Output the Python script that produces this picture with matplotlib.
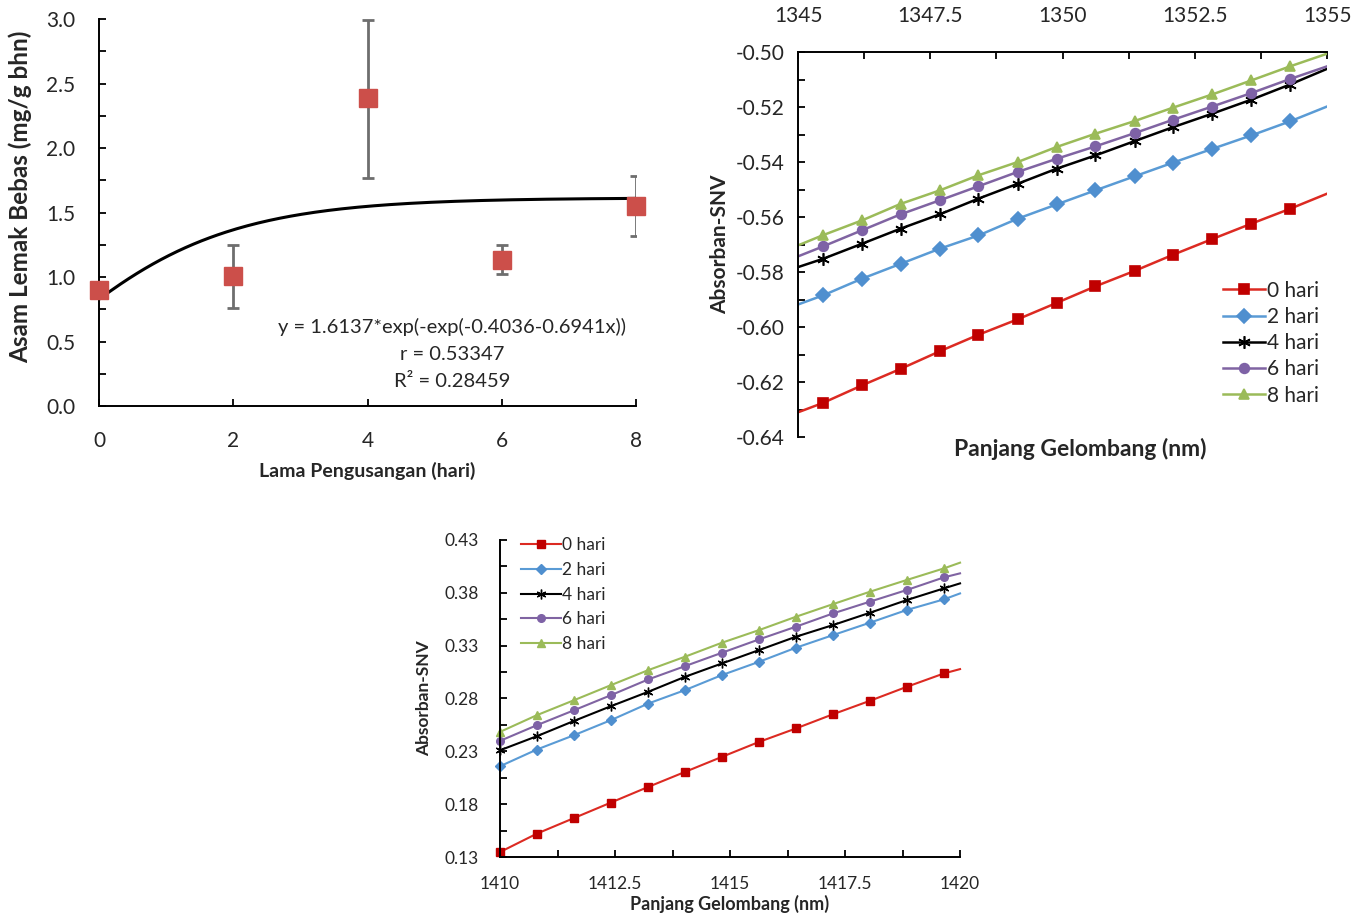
import numpy as np
import matplotlib
matplotlib.use("Agg")
import matplotlib.pyplot as plt
from matplotlib.ticker import MultipleLocator, FixedLocator, FormatStrFormatter, FuncFormatter

plt.rcParams['font.family'] = ['Lato', 'DejaVu Sans']
plt.rcParams['axes.unicode_minus'] = False

# ---- panel A: asam lemak bebas vs lama pengusangan ----
days = [0, 2, 4, 6, 8]
ffa_mean = [0.90, 1.01, 2.39, 1.13, 1.55]
ffa_low = [0.88, 0.76, 1.77, 1.02, 1.32]
ffa_high = [0.92, 1.25, 2.99, 1.25, 1.78]
# fitted Gompertz model as printed on the chart
fit_a, fit_b, fit_c = 1.6137, -0.4036, -0.6941
fit_text = ["y = 1.6137*exp(-exp(-0.4036-0.6941x))", "r = 0.53347", "R² = 0.28459"]

# ---- panel B: spektrum 1345-1355 nm ----
series_labels = ["0 hari", "2 hari", "4 hari", "6 hari", "8 hari"]
wl_b = [1345.00, 1345.47, 1346.21, 1346.94, 1347.68, 1348.41, 1349.15, 1349.89,
        1350.62, 1351.36, 1352.09, 1352.83, 1353.57, 1354.30, 1355.00]
snv_b = [
    [-0.6310, -0.6276, -0.6212, -0.6152, -0.6088, -0.6028, -0.5972, -0.5912,
     -0.5852, -0.5796, -0.5737, -0.5680, -0.5624, -0.5570, -0.5515],
    [-0.5918, -0.5885, -0.5824, -0.5770, -0.5715, -0.5667, -0.5606, -0.5554,
     -0.5503, -0.5452, -0.5402, -0.5352, -0.5303, -0.5252, -0.5198],
    [-0.5782, -0.5752, -0.5697, -0.5642, -0.5590, -0.5533, -0.5479, -0.5424,
     -0.5376, -0.5324, -0.5273, -0.5224, -0.5173, -0.5118, -0.5061],
    [-0.5743, -0.5707, -0.5648, -0.5590, -0.5539, -0.5488, -0.5436, -0.5388,
     -0.5343, -0.5295, -0.5246, -0.5198, -0.5149, -0.5098, -0.5052],
    [-0.5703, -0.5666, -0.5612, -0.5552, -0.5503, -0.5448, -0.5400, -0.5345,
     -0.5297, -0.5251, -0.5202, -0.5154, -0.5103, -0.5052, -0.5006],
]

# ---- panel C: spektrum 1410-1420 nm ----
wl_c = [1410.00, 1410.80, 1411.61, 1412.41, 1413.22, 1414.02, 1414.82,
        1415.63, 1416.43, 1417.24, 1418.04, 1418.84, 1419.65, 1420.00]
snv_c = [
    [0.1347, 0.1521, 0.1669, 0.1815, 0.1963, 0.2105, 0.2247,
     0.2389, 0.2516, 0.2651, 0.2778, 0.2910, 0.3037, 0.3078],
    [0.2159, 0.2317, 0.2453, 0.2595, 0.2752, 0.2879, 0.3021,
     0.3147, 0.3280, 0.3400, 0.3517, 0.3637, 0.3738, 0.3794],
    [0.2310, 0.2443, 0.2588, 0.2727, 0.2863, 0.3005, 0.3131,
     0.3258, 0.3384, 0.3495, 0.3611, 0.3731, 0.3842, 0.3889],
    [0.2399, 0.2547, 0.2689, 0.2831, 0.2980, 0.3106, 0.3232,
     0.3359, 0.3479, 0.3605, 0.3716, 0.3826, 0.3946, 0.3984],
    [0.2484, 0.2642, 0.2784, 0.2926, 0.3068, 0.3195, 0.3327,
     0.3447, 0.3573, 0.3693, 0.3810, 0.3921, 0.4031, 0.4085],
]
yticks_c = [0.13, 0.18, 0.23, 0.28, 0.33, 0.38, 0.43]

line_colors = ['#dc2a22', '#5a9bd5', '#000000', '#8064a2', '#9bbb59']
marker_colors = ['#c00000', '#4f8fcf', '#000000', '#7e62a6', '#9bbb59']
markers = ['s', 'D', (6, 2, 0), 'o', '^']
TXT = '#262626'

fig = plt.figure(figsize=(13.67, 9.23), dpi=100)


def style_ticks(ax, size):
    ax.tick_params(which='both', direction='in', length=5, width=1.3,
                   labelsize=size, labelcolor=TXT)
    for s in ax.spines.values():
        s.set_linewidth(1.4)


# Panel A
ax1 = fig.add_axes([0.0724, 0.5601, 0.3929, 0.4193])
yerr = [np.array(ffa_mean) - np.array(ffa_low), np.array(ffa_high) - np.array(ffa_mean)]
ax1.errorbar(days, ffa_mean, yerr=yerr, fmt='none', ecolor='#6e6e6e',
             elinewidth=2, capsize=4, capthick=2, zorder=2)
xf = np.linspace(0, 8, 200)
ax1.plot(xf, fit_a * np.exp(-np.exp(fit_b + fit_c * xf)), color='black', lw=2.2, zorder=3)
ax1.plot(days, ffa_mean, 's', color='#cc4f4a', markersize=13, zorder=4, clip_on=False)
ax1.set_xlim(0, 8)
ax1.set_ylim(0, 3.0)
ax1.set_xticks([0, 2, 4, 6, 8])
ax1.yaxis.set_major_locator(MultipleLocator(0.5))
ax1.yaxis.set_minor_locator(MultipleLocator(0.25))
ax1.yaxis.set_major_formatter(FormatStrFormatter('%.1f'))
ax1.spines['top'].set_visible(False)
ax1.spines['right'].set_visible(False)
style_ticks(ax1, 15)
ax1.tick_params(axis='x', pad=18)
ax1.tick_params(axis='y', pad=17)
ax1.set_xlabel("Lama Pengusangan (hari)", fontsize=14, fontweight='bold', color=TXT, labelpad=8)
ax1.set_ylabel("Asam Lemak Bebas (mg/g bhn)", fontsize=17.5, fontweight='bold', color=TXT)
ax1.yaxis.set_label_coords(-0.125, 0.54)
for i, t in enumerate(fit_text):
    ax1.text(5.26, 0.612 - i * 0.212, t, ha='center', va='center', fontsize=14.5, color=TXT)

# Panel B
ax2 = fig.add_axes([0.5838, 0.5265, 0.3870, 0.4171])
for i in range(5):
    ax2.plot(wl_b, snv_b[i], color=line_colors[i], lw=1.8, marker=markers[i],
             markevery=slice(1, -1), markersize=7 if i != 2 else 9,
             markerfacecolor=marker_colors[i], markeredgecolor=marker_colors[i],
             markeredgewidth=1.2, label=series_labels[i])
ax2.set_xlim(1345, 1355)
ax2.set_ylim(-0.64, -0.50)
ax2.xaxis.tick_top()
ax2.xaxis.set_major_locator(MultipleLocator(2.5))
ax2.xaxis.set_minor_locator(MultipleLocator(1.25))
ax2.xaxis.set_major_formatter(FuncFormatter(lambda v, p: '{:g}'.format(v)))
ax2.yaxis.set_major_locator(MultipleLocator(0.02))
ax2.yaxis.set_minor_locator(MultipleLocator(0.01))
ax2.yaxis.set_major_formatter(FormatStrFormatter('%.2f'))
ax2.spines['bottom'].set_visible(False)
ax2.spines['right'].set_visible(False)
style_ticks(ax2, 15)
ax2.tick_params(axis='x', pad=19)
ax2.tick_params(axis='y', pad=10)
ax2.set_ylabel("Absorban-SNV", fontsize=15, fontweight='bold', color=TXT)
ax2.yaxis.set_label_coords(-0.128, 0.5)
fig.text(1080 / 1367, 1 - 449 / 923, "Panjang Gelombang (nm)", ha='center', va='center',
         fontsize=16.5, fontweight='bold', color=TXT)
ax2.legend(loc='lower right', bbox_to_anchor=(1.0, 0.06), frameon=False, fontsize=15,
           handlelength=2.0, handletextpad=0.1, labelspacing=0.3, borderaxespad=0,
           labelcolor=TXT)

# Panel C
ax3 = fig.add_axes([0.3658, 0.0715, 0.3365, 0.3435])
for i in range(5):
    ax3.plot(wl_c, snv_c[i], color=line_colors[i], lw=1.5, marker=markers[i],
             markevery=slice(0, -1), markersize=5.5 if i != 2 else 7,
             markerfacecolor=marker_colors[i], markeredgecolor=marker_colors[i],
             label=series_labels[i], clip_on=False)
ax3.set_xlim(1410, 1420)
ax3.set_ylim(yticks_c[0], yticks_c[-1])
ax3.xaxis.set_major_locator(MultipleLocator(2.5))
ax3.xaxis.set_minor_locator(MultipleLocator(1.25))
ax3.xaxis.set_major_formatter(FuncFormatter(lambda v, p: '{:g}'.format(v)))
ax3.yaxis.set_major_locator(FixedLocator(yticks_c))
ax3.yaxis.set_minor_locator(FixedLocator([v + 0.025 for v in yticks_c[:-1]]))
ax3.yaxis.set_major_formatter(FormatStrFormatter('%.2f'))
ax3.spines['top'].set_visible(False)
ax3.spines['right'].set_visible(False)
style_ticks(ax3, 12.5)
ax3.tick_params(axis='x', pad=14)
ax3.tick_params(axis='y', pad=15)
ax3.set_ylabel("Absorban-SNV", fontsize=12.5, fontweight='bold', color=TXT)
ax3.yaxis.set_label_coords(-0.148, 0.5)
ax3.set_xlabel("Panjang Gelombang (nm)", fontsize=13, fontweight='bold', color=TXT, labelpad=2)
ax3.legend(loc='upper left', bbox_to_anchor=(0.03, 1.03), frameon=False, fontsize=12.5,
           handlelength=2.3, handletextpad=0.1, labelspacing=0.5, borderaxespad=0,
           labelcolor=TXT)

fig.savefig("out.png", dpi=100)
